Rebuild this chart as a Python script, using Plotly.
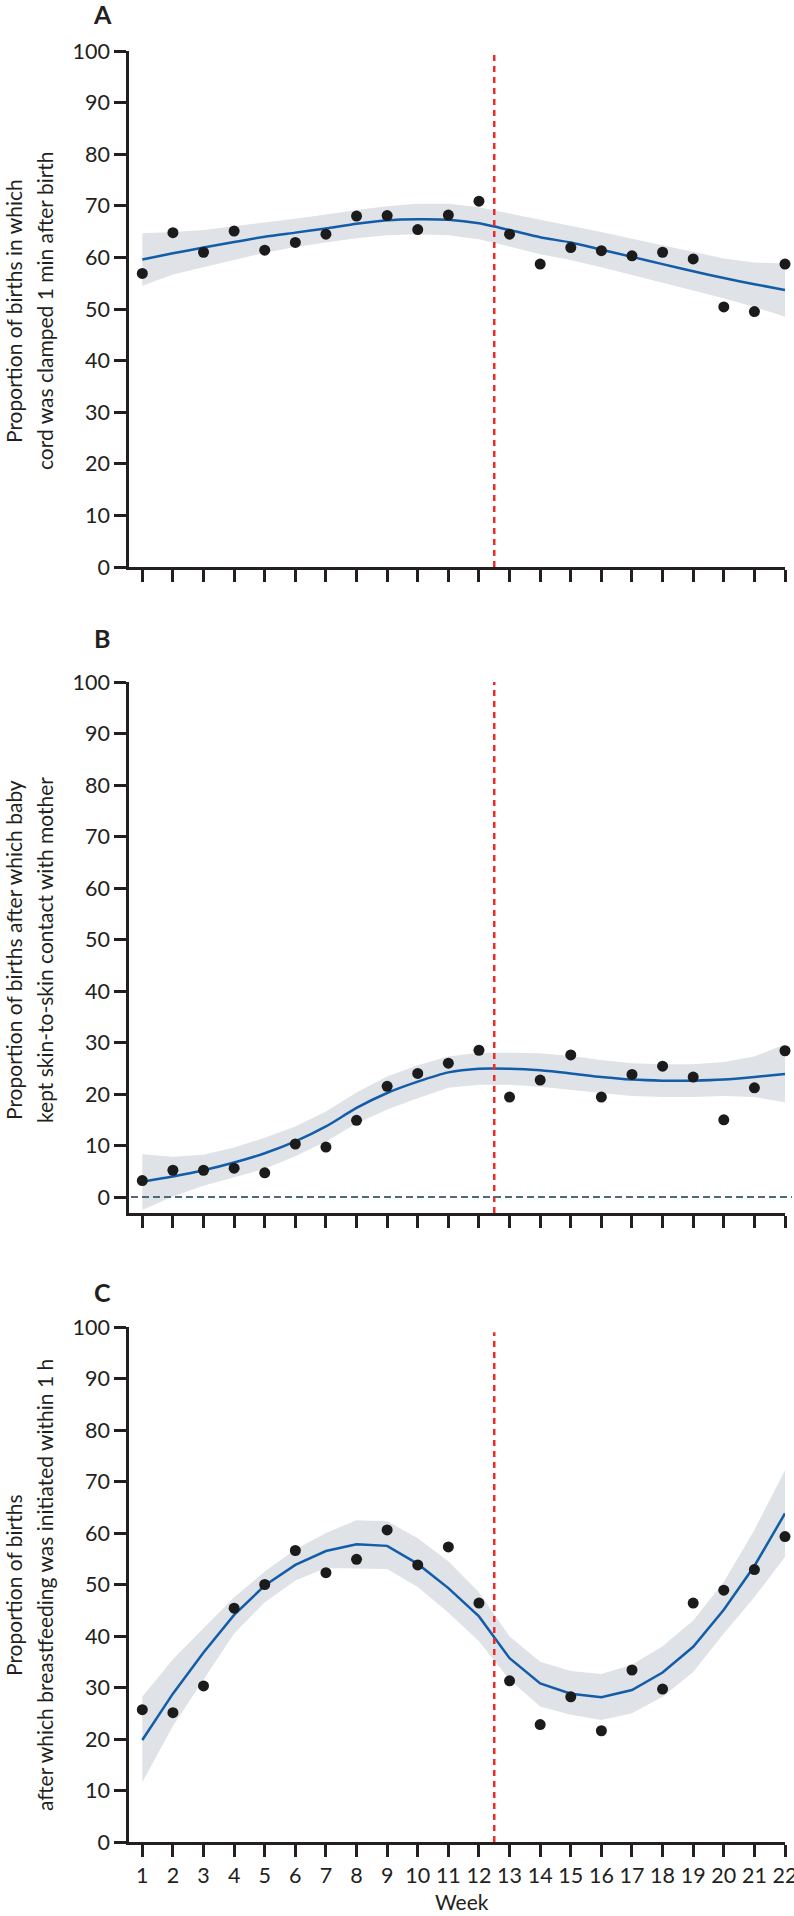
import plotly.graph_objects as go

# ---------------- data ----------------
weeks = list(range(1, 23))
week_labels = [str(w) for w in weeks]
y_ticks = list(range(0, 101, 10))

# Panel A: cord clamped 1 min after birth
cord_obs = [56.9, 64.8, 61.0, 65.1, 61.4, 62.9, 64.5, 68.0, 68.1, 65.4, 68.2,
            70.9, 64.5, 58.7, 61.9, 61.3, 60.3, 61.0, 59.7, 50.4, 49.5, 58.7]
cord_fit = [59.6, 60.8, 61.9, 63.0, 64.0, 64.8, 65.6, 66.5, 67.2, 67.4, 67.3,
            66.6, 65.3, 63.9, 62.9, 61.5, 60.1, 58.7, 57.3, 56.0, 54.8, 53.7]
cord_hi = [64.7, 64.9, 65.3, 66.0, 66.8, 67.5, 68.3, 69.2, 69.9, 70.4, 70.4,
           69.7, 68.5, 67.3, 66.2, 64.9, 63.6, 62.3, 61.0, 59.8, 59.0, 58.8]
cord_lo = [54.5, 56.7, 58.0, 59.5, 60.9, 62.0, 62.9, 63.7, 64.3, 64.5, 64.3,
           63.5, 62.1, 60.6, 59.5, 58.1, 56.7, 55.2, 53.6, 52.1, 50.4, 48.5]

# Panel B: skin-to-skin contact
skin_obs = [3.2, 5.2, 5.2, 5.6, 4.7, 10.3, 9.7, 14.9, 21.5, 24.0, 26.0,
            28.5, 19.4, 22.7, 27.6, 19.4, 23.8, 25.4, 23.3, 15.0, 21.2, 28.4]
skin_fit = [3.0, 4.0, 5.2, 6.7, 8.5, 10.8, 13.7, 17.3, 20.2, 22.4, 24.2,
            24.9, 24.9, 24.6, 24.0, 23.3, 22.8, 22.6, 22.6, 22.8, 23.3, 23.9]
skin_hi = [8.3, 7.8, 8.2, 9.6, 11.5, 13.7, 16.6, 20.3, 23.4, 25.6, 27.3,
           28.0, 28.0, 27.9, 27.4, 26.6, 26.0, 25.8, 25.8, 26.2, 27.3, 29.6]
skin_lo = [-2.5, 0.1, 2.2, 3.8, 5.5, 7.9, 10.8, 14.3, 17.0, 19.2, 21.2,
           21.8, 21.8, 21.4, 20.8, 20.2, 19.6, 19.4, 19.4, 19.6, 19.4, 18.4]

# Panel C: breastfeeding within 1 h
bf_obs = [25.7, 25.1, 30.3, 45.4, 50.0, 56.6, 52.3, 54.9, 60.6, 53.8, 57.3,
          46.4, 31.3, 22.8, 28.2, 21.6, 33.4, 29.7, 46.4, 48.9, 52.9, 59.3]
bf_fit = [19.8, 28.8, 36.8, 44.1, 49.8, 53.8, 56.5, 57.8, 57.5, 54.0, 49.3,
          43.8, 35.7, 30.8, 28.8, 28.1, 29.5, 32.9, 37.9, 45.1, 53.6, 63.8]
bf_hi = [28.2, 35.5, 41.5, 47.5, 52.5, 56.8, 60.0, 62.5, 62.3, 59.0, 54.5,
         48.5, 39.9, 35.0, 33.2, 32.6, 34.4, 38.0, 43.0, 50.5, 60.6, 72.2]
bf_lo = [11.6, 22.5, 31.5, 40.5, 46.5, 50.8, 53.2, 53.1, 53.0, 49.5, 44.5,
         39.0, 31.5, 26.3, 24.7, 23.7, 25.0, 28.2, 33.0, 40.5, 47.5, 55.4]

intervention_week = 12.5
panel_letters = ["A", "B", "C"]
title_lines = [
    ["Proportion of births in which", "cord was clamped 1 min after birth"],
    ["Proportion of births after which baby", "kept skin-to-skin contact with mother"],
    ["Proportion of births", "after which breastfeeding was initiated within 1 h"],
]

# ---------------- style ----------------
W, H = 794, 1916
ML, MR = 129, 9
PW = W - ML - MR
FONT = "Lato, 'Open Sans', sans-serif"
INK = "#231f20"
BAND = "#dfe2e7"
BLUE = "#125ca8"
RED = "#ee2b2b"
TICK_SIZE = 21.5
TITLE_SIZE = 21

# pixel placement of each panel: (top px of value 100, bottom px of axis)
panel_px = [(51, 567), (682, 1213), (1327, 1842)]
yranges = [[0, 100], [-3.1, 100], [0, 100]]
red_top = [100, 101.4, 99]
title_center_px = [311, 950, 1585]
letter_px = [14, 638, 1292]

def py(px):
    return 1 - px / H

def pxx(px):
    return (px - ML) / PW

fig = go.Figure()
series = [
    (cord_obs, cord_fit, cord_hi, cord_lo),
    (skin_obs, skin_fit, skin_hi, skin_lo),
    (bf_obs, bf_fit, bf_hi, bf_lo),
]
for i, (obs, fit, hi, lo) in enumerate(series):
    xa = "x" if i == 0 else f"x{i+1}"
    ya = "y" if i == 0 else f"y{i+1}"
    fig.add_trace(go.Scatter(
        x=weeks + weeks[::-1], y=hi + lo[::-1], fill="toself",
        fillcolor=BAND, line=dict(width=0), mode="lines",
        hoverinfo="skip", xaxis=xa, yaxis=ya))
    fig.add_trace(go.Scatter(
        x=weeks, y=fit, mode="lines",
        line=dict(color=BLUE, width=2.5,
                  shape="spline" if i < 2 else "linear", smoothing=0.6),
        xaxis=xa, yaxis=ya))
    fig.add_trace(go.Scatter(
        x=weeks, y=obs, mode="markers",
        marker=dict(color="#1b1b1b", size=11), cliponaxis=False,
        xaxis=xa, yaxis=ya))

layout = dict(
    width=W, height=H,
    margin=dict(l=ML, r=MR, t=0, b=0, pad=0),
    paper_bgcolor="white", plot_bgcolor="white",
    showlegend=False,
    font=dict(family=FONT, color=INK, size=20),
)
shapes = []
annotations = []
for i in range(3):
    sfx = "" if i == 0 else str(i + 1)
    top, bot = panel_px[i]
    layout["xaxis" + sfx] = dict(
        domain=[0, 1], anchor="y" + sfx, range=[0.565, 22],
        tickvals=weeks, ticktext=week_labels,
        showticklabels=(i == 2), ticklabeloverflow="allow",
        ticks="outside", ticklen=12, tickwidth=2.5, tickcolor=INK,
        showline=True, linewidth=2.5, linecolor=INK,
        showgrid=False, zeroline=False, automargin=False,
        tickfont=dict(size=TICK_SIZE, family=FONT, color=INK),
    )
    layout["yaxis" + sfx] = dict(
        domain=[py(bot), py(top)], anchor="x" + sfx, range=yranges[i],
        tickvals=y_ticks, ticklabeloverflow="allow",
        ticks="outside", ticklen=12, tickwidth=2.5, tickcolor=INK,
        showline=True, linewidth=2.5, linecolor=INK,
        showgrid=False, zeroline=False, automargin=False,
        tickfont=dict(size=TICK_SIZE, family=FONT, color=INK),
    )
    shapes.append(dict(
        type="line", xref="x" + sfx, yref="y" + sfx,
        x0=intervention_week, x1=intervention_week,
        y0=yranges[i][0], y1=red_top[i],
        line=dict(color=RED, width=2.5, dash="6px,5px"), layer="above"))
    annotations.append(dict(
        text="<b>%s</b>" % panel_letters[i], xref="paper", yref="paper",
        x=pxx(102), y=py(letter_px[i]), showarrow=False,
        xanchor="center", yanchor="middle",
        font=dict(size=25, family=FONT, color=INK)))
    for j, (line, cx) in enumerate(zip(title_lines[i], [13, 44])):
        annotations.append(dict(
            text=line, xref="paper", yref="paper",
            x=pxx(cx), y=py(title_center_px[i]), showarrow=False,
            textangle=-90, xanchor="center", yanchor="middle",
            font=dict(size=TITLE_SIZE, family=FONT, color=INK)))

# dashed reference line at 0 in panel B
shapes.append(dict(
    type="line", xref="paper", yref="y2", x0=pxx(131), x1=pxx(792), y0=0, y1=0,
    line=dict(color="#4d6a78", width=2, dash="7px,4px"), layer="above"))

annotations.append(dict(
    text="Week", xref="paper", yref="paper", x=pxx(462), y=py(1916),
    showarrow=False, xanchor="center", yanchor="bottom",
    font=dict(size=TITLE_SIZE, family=FONT, color=INK)))

layout["shapes"] = shapes
layout["annotations"] = annotations
fig.update_layout(**layout)
fig.write_html(
    "out.html",
    config={"displayModeBar": False},
    post_script="document.body.style.margin='0';document.body.style.overflow='hidden';",
)
